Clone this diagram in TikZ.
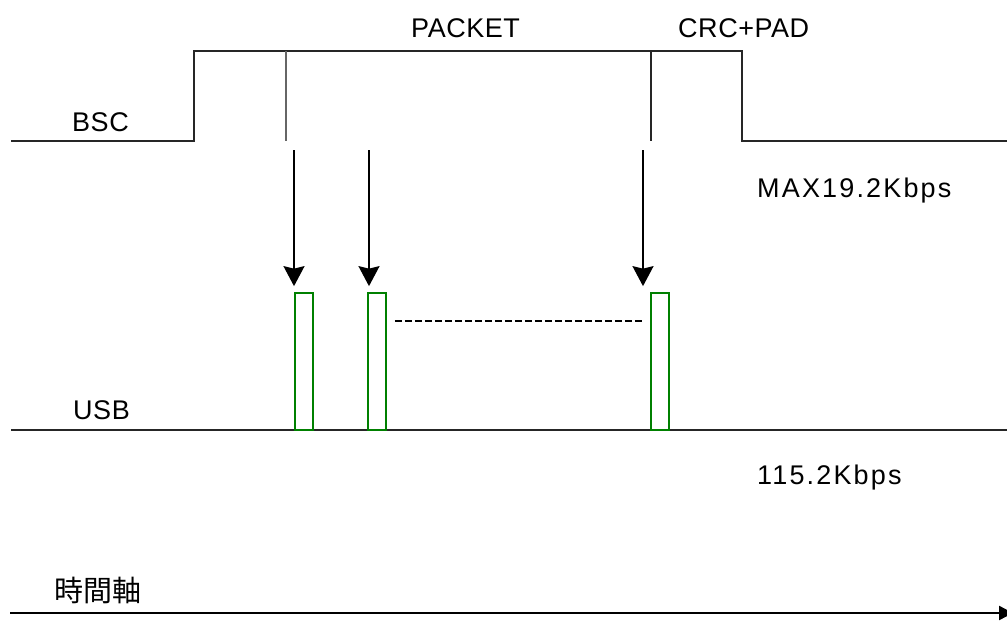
\documentclass[tikz,border=0pt]{standalone}
\usepackage{fontspec}
\setmainfont{Liberation Sans}
\newfontfamily\jpfont{Noto Sans CJK JP}
\usetikzlibrary{arrows.meta}

\tikzset{
  lbl/.style={inner sep=0pt, anchor=base west,
    font=\fontsize{27}{32}\selectfont\addfontfeature{LetterSpace=2}},
  rate/.style={lbl, font=\fontsize{27}{32}\selectfont\addfontfeature{LetterSpace=8}},
  sig/.style={line width=1.3pt, black!85},
  slot/.style={draw=green!50!black, line width=1.7pt, minimum width=18pt,
    minimum height=137pt, inner sep=0pt},
  drop/.style={line width=1.8pt, -{Stealth[length=20pt,width=21pt,inset=2.5pt]},
    shorten >=6pt},
}

\begin{document}
\begin{tikzpicture}[x=1pt,y=-1pt]
  \useasboundingbox (0,0) rectangle (1007,621);

  % BSC signal:
  % low level, then high while the packet is sent
  \draw [sig] (11,141) -- (194,141) -- (194,51) -- (742,51) -- (742,141) -- (1007,141);
  \draw [sig, black!60] (286,51) -- (286,141);
  \draw [sig] (651,51) -- (651,141);
  \node [lbl] (bsc) at (72,131) {BSC};
  \node [lbl] (packet) at (411,37) {PACKET};
  \node [lbl] (crcpad) at (678,37) {CRC+PAD};
  \node [rate] (bscrate) at (757,197) {MAX19.2Kbps};

  % USB signal:
  \draw [sig] (11,430) -- (1007,430);
  \node [lbl] (usb) at (73,419) {USB};
  \node [rate] (usbrate) at (757,484) {115.2Kbps};

  % USB frames
  \node [slot] (s1) at (304,361.5) {};
  \node [slot] (s2) at (377,361.5) {};
  \node [slot] (s3) at (660,361.5) {};

  % Arrows from BSC down to the frames
  \coordinate (a1) at (294,150);
  \coordinate (a2) at (369,150);
  \coordinate (a3) at (643,150);
  \draw [drop] (a1) -- (a1 |- s1.north);
  \draw [drop] (a2) -- (a2 |- s2.north);
  \draw [drop] (a3) -- (a3 |- s3.north);
  \coordinate (d3) at (643,321);
  \draw [line width=1.2pt, dash pattern=on 7pt off 3pt] (s2.east |- d3) ++(8,0) -- (d3);

  % Time axis
  \coordinate (t0) at (10,613);
  \coordinate (t1) at (1013,613);
  \draw [line width=2.4pt, -{Triangle[length=14pt,width=14pt]}] (t0) -- (t1);
  \node [lbl, font=\fontsize{29}{34}\selectfont\jpfont] (axis) at (54,601) {時間軸};
\end{tikzpicture}
\end{document}
